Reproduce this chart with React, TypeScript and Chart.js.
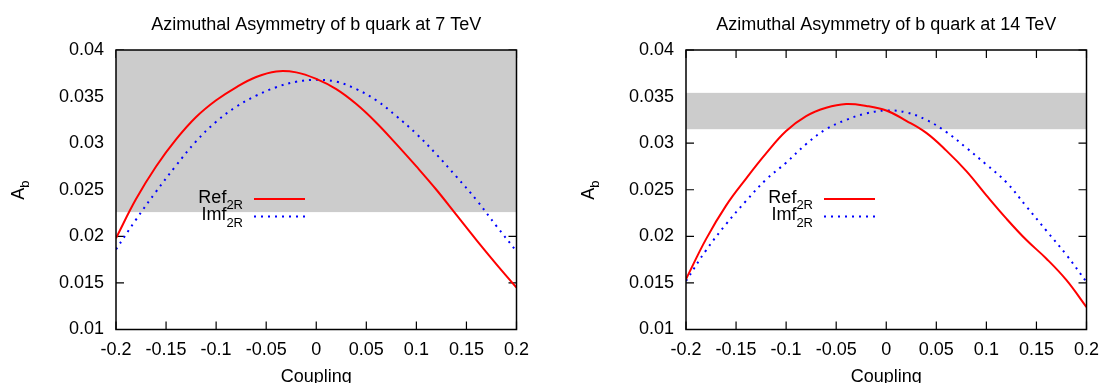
import React, { useEffect, useRef } from 'react';
import { Chart, registerables } from 'chart.js';

Chart.register(...registerables);

// ---------- data ----------
const coupling = [-0.2, -0.18, -0.16, -0.14, -0.12, -0.1, -0.08, -0.06, -0.04, -0.02, 0, 0.02, 0.04, 0.06, 0.08, 0.1, 0.12, 0.14, 0.16, 0.18, 0.2];

const ref7 = [0.0198, 0.0240, 0.0275, 0.0304, 0.0328, 0.0346, 0.0360, 0.0371, 0.0377, 0.0376, 0.0369, 0.0358, 0.0342, 0.0322, 0.0299, 0.0275, 0.0250, 0.0223, 0.0196, 0.0170, 0.0145];
const imf7 = [0.0186, 0.0218, 0.0248, 0.0276, 0.0302, 0.0323, 0.0339, 0.0351, 0.0360, 0.0366, 0.0368, 0.0366, 0.0358, 0.0346, 0.0329, 0.0310, 0.0288, 0.0264, 0.0239, 0.0211, 0.0184];

const ref14 = [0.0154, 0.0197, 0.0233, 0.0262, 0.0289, 0.0313, 0.0329, 0.0338, 0.0342, 0.0340, 0.0335, 0.0324, 0.0311, 0.0292, 0.0270, 0.0244, 0.0219, 0.0196, 0.0176, 0.0153, 0.0124];
const imf14 = [0.0152, 0.0185, 0.0213, 0.0238, 0.0261, 0.0279, 0.0299, 0.0315, 0.0325, 0.0332, 0.0335, 0.0333, 0.0325, 0.0312, 0.0295, 0.0277, 0.0258, 0.0232, 0.0206, 0.0180, 0.0151];

const band7 = [0.0226, 0.04];
const band14 = [0.0315, 0.0354];

const xTicks = [-0.2, -0.15, -0.1, -0.05, 0, 0.05, 0.1, 0.15, 0.2];
const xTickLabels = ['-0.2', '-0.15', '-0.1', '-0.05', '0', '0.05', '0.1', '0.15', '0.2'];
const yTicks = [0.01, 0.015, 0.02, 0.025, 0.03, 0.035, 0.04];
const yTickLabels = ['0.01', '0.015', '0.02', '0.025', '0.03', '0.035', '0.04'];

const titles = ['Azimuthal Asymmetry of b quark at 7 TeV', 'Azimuthal Asymmetry of b quark at 14 TeV'];
const seriesNames = ['Ref', 'Imf'];
const seriesSubs = ['2R', '2R'];
const xAxisTitle = 'Coupling';
const yAxisTitle = 'A';
const yAxisSub = 'b';

const FONT = "'Liberation Sans', Arial, Helvetica, sans-serif";

function makeDecorPlugin(band: number[]) {
  return {
    id: 'gnuplotDecor',
    beforeDatasetsDraw(chart: any) {
      const { ctx, chartArea: a, scales } = chart;
      const xs = scales.x;
      const ys = scales.y;
      ctx.save();
      // inward ticks on all four sides
      ctx.strokeStyle = '#000';
      ctx.lineWidth = 1.2;
      const tl = 8;
      ctx.beginPath();
      xTicks.forEach((v) => {
        const px = xs.getPixelForValue(v);
        ctx.moveTo(px, a.bottom);
        ctx.lineTo(px, a.bottom - tl);
        ctx.moveTo(px, a.top);
        ctx.lineTo(px, a.top + tl);
      });
      yTicks.forEach((v) => {
        const py = ys.getPixelForValue(v);
        ctx.moveTo(a.left, py);
        ctx.lineTo(a.left + tl, py);
        ctx.moveTo(a.right, py);
        ctx.lineTo(a.right - tl, py);
      });
      ctx.stroke();
      // grey band
      ctx.beginPath();
      ctx.rect(a.left, a.top, a.right - a.left, a.bottom - a.top);
      ctx.clip();
      const y1 = ys.getPixelForValue(band[1]);
      const y0 = ys.getPixelForValue(band[0]);
      ctx.fillStyle = '#cccccc';
      ctx.fillRect(a.left, y1, a.right - a.left, y0 - y1);
      ctx.restore();
    },
    afterDatasetsDraw(chart: any) {
      const { ctx, chartArea: a } = chart;
      ctx.save();
      // border
      ctx.strokeStyle = '#000';
      ctx.lineWidth = 1.5;
      ctx.strokeRect(a.left, a.top, a.right - a.left, a.bottom - a.top);

      // legend
      const mainFont = `18px ${FONT}`;
      const subFont = `13px ${FONT}`;
      chart.data.datasets.forEach((ds: any, i: number) => {
        const lineY = a.top + 149 + i * 17.6;
        const textEnd = a.left + 127;
        ctx.font = subFont;
        const subW = ctx.measureText(seriesSubs[i]).width;
        ctx.fillStyle = '#000';
        ctx.textAlign = 'left';
        ctx.textBaseline = 'alphabetic';
        ctx.fillText(seriesSubs[i], textEnd - subW, lineY + 10.3);
        ctx.font = mainFont;
        ctx.textAlign = 'right';
        ctx.fillText(seriesNames[i], textEnd - subW, lineY + 3.7);
        ctx.beginPath();
        ctx.strokeStyle = ds.borderColor;
        ctx.lineWidth = ds.borderWidth;
        ctx.setLineDash(ds.borderDash || []);
        ctx.lineCap = 'butt';
        ctx.moveTo(a.left + 138, lineY);
        ctx.lineTo(a.left + 189, lineY);
        ctx.stroke();
        ctx.setLineDash([]);
      });

      // y axis label with subscript
      ctx.translate(a.left - 92, (a.top + a.bottom) / 2 + 0.5);
      ctx.rotate(-Math.PI / 2);
      ctx.fillStyle = '#000';
      ctx.textAlign = 'left';
      ctx.textBaseline = 'alphabetic';
      ctx.font = mainFont;
      const wA = ctx.measureText(yAxisTitle).width;
      ctx.font = subFont;
      const wb = ctx.measureText(yAxisSub).width;
      const start = -(wA + wb) / 2;
      ctx.font = mainFont;
      ctx.fillText(yAxisTitle, start, 0);
      ctx.font = subFont;
      ctx.fillText(yAxisSub, start + wA, 5);
      ctx.restore();
    },
  };
}

type PanelProps = {
  title: string;
  ref: number[];
  imf: number[];
  band: number[];
  left: number;
  width: number;
  plotLeft: number;
  plotRight: number;
};

function Panel(props: { cfg: PanelProps }) {
  const { cfg } = props;
  const canvasRef = useRef<HTMLCanvasElement | null>(null);
  useEffect(() => {
    const canvas = canvasRef.current;
    if (!canvas) return;
    const height = 383;
    const chart = new Chart(canvas, {
      type: 'line',
      data: {
        datasets: [
          {
            label: seriesNames[0] + seriesSubs[0],
            data: coupling.map((x, i) => ({ x, y: cfg.ref[i] })),
            borderColor: '#ff0000',
            borderWidth: 2,
            pointRadius: 0,
            fill: false,
            tension: 0.4,
          },
          {
            label: seriesNames[1] + seriesSubs[1],
            data: coupling.map((x, i) => ({ x, y: cfg.imf[i] })),
            borderColor: '#0000ff',
            borderWidth: 2,
            borderDash: [2, 5],
            borderCapStyle: 'butt',
            pointRadius: 0,
            fill: false,
            tension: 0.4,
          },
        ],
      },
      options: {
        responsive: false,
        animation: false,
        devicePixelRatio: 1,
        layout: { padding: { left: 0, right: cfg.width - (cfg.plotRight - cfg.left), top: 0, bottom: 0 } },
        plugins: {
          legend: { display: false },
          tooltip: { enabled: false },
          title: {
            display: true,
            text: cfg.title,
            fullSize: false,
            color: '#000',
            font: { family: FONT, size: 18, weight: 'normal', lineHeight: 1.2 },
            padding: { top: 14.2, bottom: 14.2 },
          },
        },
        scales: {
          x: {
            type: 'linear',
            min: -0.2,
            max: 0.2,
            afterBuildTicks: (s: any) => {
              s.ticks = xTicks.map((v) => ({ value: v }));
            },
            afterFit: (s: any) => {
              s.height = height - 329.5;
            },
            grid: { display: false },
            border: { display: false },
            ticks: {
              autoSkip: false,
              maxRotation: 0,
              padding: 2,
              color: '#000',
              font: { family: FONT, size: 18 },
              callback: (_v: any, i: number) => xTickLabels[i],
            },
            title: {
              display: true,
              text: xAxisTitle,
              color: '#000',
              font: { family: FONT, size: 18, lineHeight: 1 },
              padding: { top: 0, bottom: -3 },
            },
          },
          y: {
            type: 'linear',
            min: 0.01,
            max: 0.04,
            afterBuildTicks: (s: any) => {
              s.ticks = yTicks.map((v) => ({ value: v }));
            },
            afterFit: (s: any) => {
              s.width = cfg.plotLeft - cfg.left;
            },
            grid: { display: false },
            border: { display: false },
            ticks: {
              autoSkip: false,
              padding: 4,
              color: '#000',
              font: { family: FONT, size: 18 },
              callback: (_v: any, i: number) => yTickLabels[i],
            },
          },
        },
      } as any,
      plugins: [makeDecorPlugin(cfg.band)],
    });
    return () => chart.destroy();
  }, [cfg]);
  return (
    <canvas
      ref={canvasRef}
      width={cfg.width}
      height={383}
      style={{ position: 'absolute', left: cfg.left, top: 0, width: cfg.width, height: 383 }}
    />
  );
}

const panels: PanelProps[] = [
  { title: titles[0], ref: ref7, imf: imf7, band: band7, left: 0, width: 551, plotLeft: 116, plotRight: 516.5 },
  { title: titles[1], ref: ref14, imf: imf14, band: band14, left: 551, width: 552, plotLeft: 686, plotRight: 1086.5 },
];

export default function App() {
  return (
    <div style={{ position: 'fixed', left: 0, top: 0, width: 1103, height: 383, background: '#fff', overflow: 'hidden' }}>
      {panels.map((p, i) => (
        <Panel key={i} cfg={p} />
      ))}
    </div>
  );
}
